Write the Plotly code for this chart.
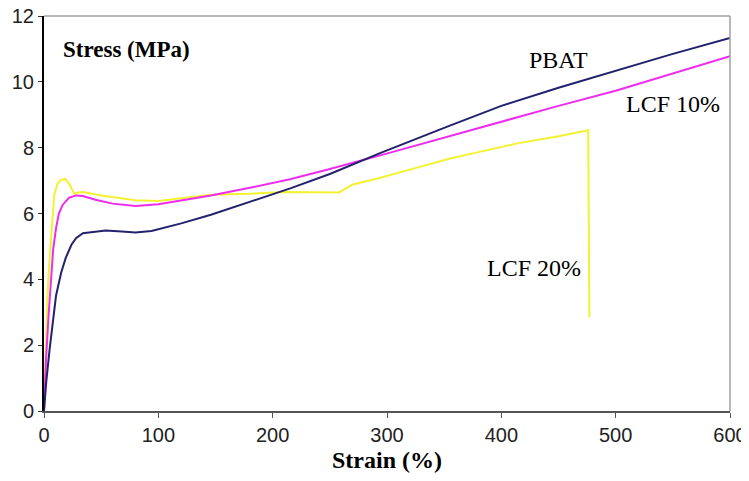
import plotly.graph_objects as go

# strain (%) / stress (MPa)
pbat_x = [0, 2, 5, 10.5, 15, 19, 24, 28, 34, 45, 54, 68, 80, 94, 120, 146, 180, 216, 250, 295, 355, 400, 450, 500, 550, 600]
pbat_y = [0, 0.9, 1.9, 3.5, 4.2, 4.65, 5.05, 5.25, 5.4, 5.45, 5.48, 5.45, 5.42, 5.47, 5.7, 5.96, 6.35, 6.77, 7.2, 7.85, 8.67, 9.27, 9.82, 10.33, 10.85, 11.33]

lcf10_x = [0, 1.7, 4, 6.1, 8, 10.5, 13, 16.3, 22, 28, 34, 45, 60, 80, 100, 146, 180, 216, 250, 306, 355, 400, 450, 500, 550, 600]
lcf10_y = [0, 1.5, 2.9, 4.04, 4.9, 5.55, 6.0, 6.26, 6.48, 6.55, 6.53, 6.42, 6.3, 6.23, 6.28, 6.55, 6.78, 7.05, 7.35, 7.88, 8.36, 8.8, 9.27, 9.73, 10.25, 10.78]

lcf20_x = [0, 1.5, 3, 4.7, 7, 9, 12, 15, 18.6, 22, 26.5, 30, 34, 50, 80, 100, 146, 180, 210, 235, 258, 270, 290, 324, 356, 382, 414, 450, 476, 477]
lcf20_y = [0, 2, 3.5, 4.55, 5.8, 6.57, 6.92, 7.02, 7.05, 6.9, 6.6, 6.64, 6.65, 6.55, 6.4, 6.38, 6.57, 6.6, 6.65, 6.65, 6.64, 6.88, 7.05, 7.37, 7.68, 7.88, 8.13, 8.35, 8.53, 2.85]

labels = ["PBAT", "LCF 10%", "LCF 20%"]
label_x = [450, 550, 429]
label_y = [10.67, 9.33, 4.33]

x_ticks = [0, 100, 200, 300, 400, 500, 600]
y_ticks = [0, 2, 4, 6, 8, 10, 12]

fig = go.Figure()
fig.add_trace(go.Scatter(x=lcf20_x, y=lcf20_y, mode="lines", name="LCF 20%",
                         line=dict(color="#f2f230", width=2)))
fig.add_trace(go.Scatter(x=lcf10_x, y=lcf10_y, mode="lines", name="LCF 10%",
                         line=dict(color="#ee2cee", width=2)))
fig.add_trace(go.Scatter(x=pbat_x, y=pbat_y, mode="lines", name="PBAT",
                         line=dict(color="#22226e", width=2)))

for t, x, y in zip(labels, label_x, label_y):
    fig.add_annotation(x=x, y=y, text=t, showarrow=False,
                       font=dict(family="Liberation Serif", size=24, color="black"))

fig.add_annotation(xref="paper", yref="paper", x=0.025, y=0.916,
                   xanchor="left", yanchor="middle",
                   text="<b>Stress (MPa)</b>", showarrow=False,
                   font=dict(family="Liberation Serif", size=23, color="black"))

# top and right frame
fig.add_shape(type="line", xref="paper", yref="paper", x0=0, x1=1, y0=1, y1=1,
              line=dict(color="#a0a0a0", width=1.5))
fig.add_shape(type="line", xref="paper", yref="paper", x0=1, x1=1, y0=0, y1=1,
              line=dict(color="#a0a0a0", width=1.5))

# page body adds ~7px offset, margins compensate
fig.update_layout(
    width=749, height=481,
    paper_bgcolor="white",
    plot_bgcolor="white",
    showlegend=False,
    font=dict(family="Liberation Sans", color="#222", size=20),
    xaxis=dict(range=[0, 600], tickvals=x_ticks, showgrid=False, zeroline=False,
               showline=True, linecolor="#555", linewidth=1.5, automargin=False,
               ticks="outside", ticklen=5, tickcolor="#555",
               ticklabeloverflow="allow",
               title=dict(text="<b>Strain (%)</b>", standoff=6,
                          font=dict(family="Liberation Serif", size=24, color="black"))),
    yaxis=dict(range=[0, 12], tickvals=y_ticks, showgrid=False, zeroline=False,
               showline=True, linecolor="black", linewidth=2, automargin=False,
               ticks="outside", ticklen=4, tickcolor="#333",
               ticklabeloverflow="allow"),
    margin=dict(l=36, r=27, t=8, b=78)
)

fig.write_html("out.html")
